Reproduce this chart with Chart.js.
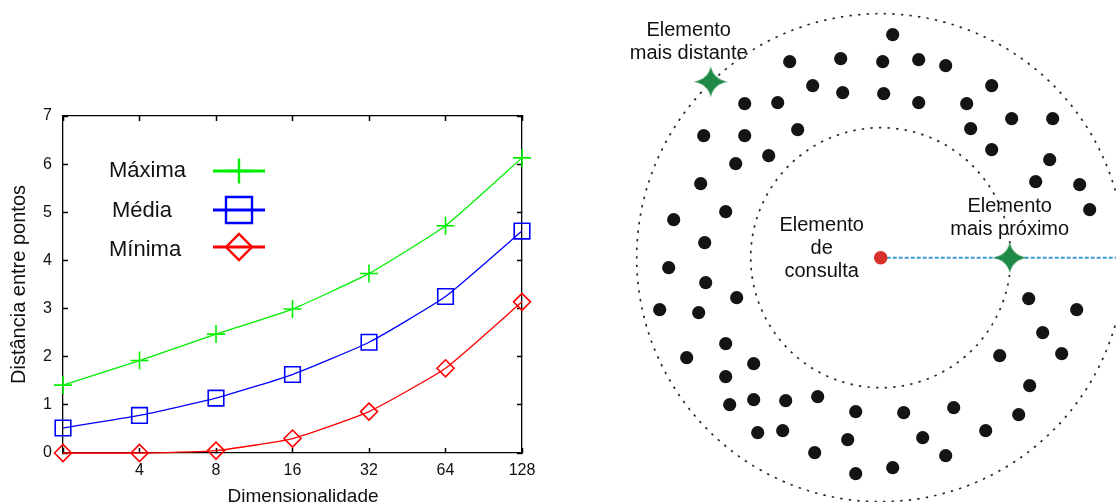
<!DOCTYPE html>
<html>
<head>
<meta charset="utf-8">
<script src="https://cdn.jsdelivr.net/npm/chart.js@4.4.1/dist/chart.umd.min.js"></script>
<style>
  html, body { margin: 0; padding: 0; background: #fff; overflow: hidden; width: 1116px; height: 502px; }
  #plot { position: absolute; left: 0; top: 0; }
  #diagram { position: absolute; left: 620px; top: 0; }
</style>
</head>
<body>
<canvas id="plot" width="560" height="520"></canvas>
<canvas id="diagram" width="496" height="502"></canvas>
<script>
// Grafico da esquerda
const dims = ['2', '4', '8', '16', '32', '64', '128'];
const dimTickLabels = ['', '4', '8', '16', '32', '64', '128'];
const seriesNames = ['Máxima', 'Média', 'Mínima'];
const maxima = [1.41, 1.92, 2.47, 2.99, 3.73, 4.72, 6.13];
const media = [0.52, 0.78, 1.14, 1.63, 2.30, 3.25, 4.61];
const minima = [0, 0, 0.05, 0.30, 0.86, 1.76, 3.14];

// Diagrama da direita (coordenadas relativas ao elemento de consulta)
const dotX = [12, -91, -40, 2, 38, 65, -68, -38, 3, 38, 111, -136, -103, 86, 131, 172, -83, 90, -177, -136,
  111, -112, -145, 169, -180, 155, 199, 209, -155, -207, -176, -212, -175, -144, 148, 196, -221, -182, 162, -155,
  -194, 119, 181, -127, -155, 149, -127, -151, -95, -63, -25, 23, 73, 138, -123, -98, -33, 42, 105, -66, 65, -25, 12];
const dotY = [223, 196, 199, 196, 198, 192, 172, 165, 164, 155, 172, 154, 155, 154, 139, 139, 128, 129, 122, 122,
  108, 102, 94, 98, 74, 76, 73, 48, 46, 38, 15, -10, -25, -40, -41, -52, -52, -55, -75, -86,
  -100, -98, -96, -106, -119, -128, -142, -147, -143, -139, -154, -155, -150, -157, -175, -173, -182, -180, -173, -195, -198, -216, -210];
const queryPoint = [0, 0];
const farthest = [-170, 176];
const nearest = [129, 0];
const ringRadii = [130, 244];
const noteLines = [['Elemento', 'mais distante'], ['Elemento', 'de', 'consulta'], ['Elemento', 'mais próximo']];
const noteX = [-192, -59, 129];
const noteY = [227, 32, 51];

const family = '"Liberation Sans", Arial, Helvetica, sans-serif';
Chart.defaults.font.family = family;

const colors = ['#00f000', '#0000ff', '#ff0000'];
const styles = ['cross', 'rect', 'rectRot'];
const plotRadius = [9, 11, 8.5];
const legendRadius = [12.5, 18.4, 13];
const legendTextX = [109, 112, 109];
const legendBase = [177, 217, 256];
const legendLineY = [171, 210, 247];

// legenda desenhada dentro da area do grafico
const insideLegend = {
  id: 'insideLegend',
  afterDatasetsDraw(chart) {
    const ctx = chart.ctx;
    chart.data.datasets.forEach((ds, i) => {
      ctx.save();
      ctx.fillStyle = '#111';
      ctx.font = '22px ' + family;
      ctx.textAlign = 'left';
      ctx.textBaseline = 'alphabetic';
      ctx.fillText(ds.label, legendTextX[i], legendBase[i]);
      const y = legendLineY[i];
      ctx.strokeStyle = ds.borderColor;
      ctx.lineWidth = 3;
      ctx.beginPath();
      ctx.moveTo(213, y);
      ctx.lineTo(265, y);
      ctx.stroke();
      ctx.fillStyle = 'rgba(0,0,0,0)';
      ctx.lineWidth = 2.4;
      Chart.helpers.drawPoint(ctx, { pointStyle: ds.pointStyle, radius: legendRadius[i], borderWidth: 2.4, rotation: 0 }, 239, y);
      ctx.restore();
    });
  }
};

const series = [maxima, media, minima];
const gridOpts = { drawOnChartArea: false, tickLength: -5, tickColor: '#000', tickWidth: 1.5 };
const borderOpts = { color: '#000', width: 1.3 };

new Chart(document.getElementById('plot'), {
  type: 'line',
  data: {
    labels: dims,
    datasets: series.map((vals, i) => ({
      label: seriesNames[i],
      data: vals,
      borderColor: colors[i],
      borderWidth: 1.3,
      tension: 0.15,
      pointStyle: styles[i],
      pointRadius: plotRadius[i],
      pointBorderWidth: 1.6,
      pointBorderColor: colors[i],
      pointBackgroundColor: 'rgba(0,0,0,0)',
      clip: false
    }))
  },
  options: {
    responsive: false,
    animation: false,
    devicePixelRatio: 1,
    layout: { padding: { top: 116, right: 38, bottom: 0, left: 0 } },
    plugins: { legend: { display: false }, tooltip: { enabled: false } },
    scales: {
      x: {
        type: 'category',
        position: 'bottom',
        offset: false,
        grid: gridOpts,
        border: borderOpts,
        ticks: {
          padding: 13, color: '#111', font: { size: 16 }, autoSkip: false, maxRotation: 0,
          callback: (v, i) => dimTickLabels[i]
        },
        title: { display: true, text: '    Dimensionalidade', color: '#111', font: { size: 19 }, padding: { top: 0, bottom: 12 } },
        afterFit: s => { s.height = 67; }
      },
      x2: {
        type: 'category',
        position: 'top',
        offset: false,
        grid: gridOpts,
        border: borderOpts,
        ticks: { display: false },
        afterFit: s => { s.height = 0; }
      },
      y: {
        min: 0, max: 7,
        grid: gridOpts,
        border: borderOpts,
        ticks: { stepSize: 1, padding: 16, color: '#111', font: { size: 16 } },
        title: { display: true, text: 'Distância entre pontos', color: '#111', font: { size: 20 }, padding: { top: 7, bottom: 0 } },
        afterFit: s => { s.width = 63; }
      },
      y2: {
        position: 'right',
        min: 0, max: 7,
        grid: gridOpts,
        border: borderOpts,
        ticks: { stepSize: 1, display: false },
        afterFit: s => { s.width = 0; }
      }
    }
  },
  plugins: [insideLegend]
});

// estrela de quatro pontas para os elementos marcados
function makeStar(w, h, color) {
  const c = document.createElement('canvas');
  c.width = w; c.height = h;
  const g = c.getContext('2d');
  const cx = w / 2, cy = h / 2, k = 2.5;
  g.fillStyle = color;
  g.beginPath();
  g.moveTo(cx, 0);
  g.quadraticCurveTo(cx + k, cy - k, w, cy);
  g.quadraticCurveTo(cx + k, cy + k, cx, h);
  g.quadraticCurveTo(cx - k, cy + k, 0, cy);
  g.quadraticCurveTo(cx - k, cy - k, cx, 0);
  g.fill();
  return c;
}
const star = makeStar(34, 31, '#1f8a48');

// circulos pontilhados
const rings = {
  id: 'rings',
  beforeDatasetsDraw(chart) {
    const { ctx, scales: { x, y } } = chart;
    const cx = x.getPixelForValue(queryPoint[0]);
    const cy = y.getPixelForValue(queryPoint[1]);
    ctx.save();
    ctx.strokeStyle = '#2a2a2a';
    ctx.lineWidth = 1.7;
    ctx.setLineDash([2.4, 6.2]);
    ringRadii.forEach(r => {
      const rp = x.getPixelForValue(queryPoint[0] + r) - cx;
      ctx.beginPath();
      ctx.arc(cx, cy, rp, 0, Math.PI * 2);
      ctx.stroke();
    });
    ctx.restore();
  }
};

// textos do diagrama
const notes = {
  id: 'notes',
  afterDatasetsDraw(chart) {
    const { ctx, scales: { x, y } } = chart;
    ctx.save();
    ctx.fillStyle = '#111';
    ctx.font = '20px ' + family;
    ctx.textAlign = 'center';
    ctx.textBaseline = 'middle';
    noteLines.forEach((lines, i) => {
      const px = x.getPixelForValue(noteX[i]);
      const py = y.getPixelForValue(noteY[i]);
      lines.forEach((t, j) => ctx.fillText(t, px, py + j * 23));
    });
    ctx.restore();
  }
};

new Chart(document.getElementById('diagram'), {
  type: 'scatter',
  data: {
    datasets: [
      {
        data: [{ x: farthest[0], y: farthest[1] }, { x: nearest[0], y: nearest[1] }],
        pointStyle: star, pointRadius: 16, clip: false
      },
      {
        data: [{ x: queryPoint[0], y: queryPoint[1] }],
        pointRadius: 6.8, backgroundColor: '#d8302b', borderWidth: 0, clip: false
      },
      {
        data: dotX.map((v, i) => ({ x: v, y: dotY[i] })),
        pointRadius: 6.6, backgroundColor: '#141414', borderWidth: 0, clip: false
      },
      {
        data: [{ x: queryPoint[0], y: queryPoint[1] }, { x: 236, y: queryPoint[1] }],
        showLine: true, borderColor: '#3f9bd3', borderWidth: 2, borderDash: [4, 2], pointRadius: 0
      }
    ]
  },
  options: {
    responsive: false,
    animation: false,
    devicePixelRatio: 1,
    layout: { padding: 0, autoPadding: false },
    plugins: { legend: { display: false }, tooltip: { enabled: false } },
    scales: {
      x: { type: 'linear', min: -260.7, max: 235.3, display: false },
      y: { type: 'linear', min: -244.3, max: 257.7, display: false }
    }
  },
  plugins: [rings, notes]
});
</script>
</body>
</html>
